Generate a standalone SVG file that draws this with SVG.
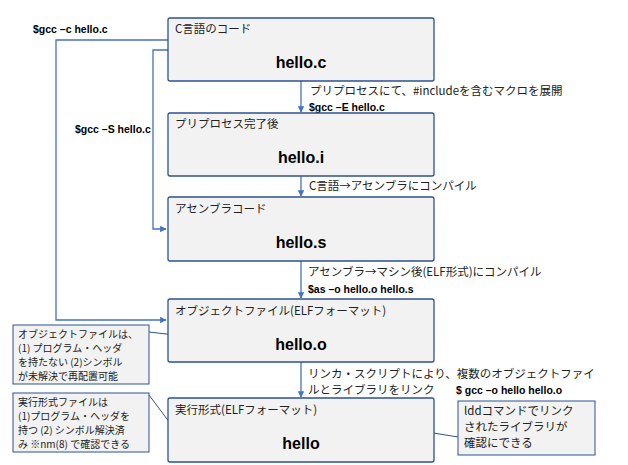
<svg xmlns="http://www.w3.org/2000/svg" width="628" height="465" viewBox="0 0 628 465">
<style>
.box{fill:#f2f2f2;stroke:#2f528f;stroke-width:1.3}
.note{fill:#f2f2f2;stroke:#2f528f;stroke-width:1}
.t{font-family:"Noto Sans CJK JP","Noto Sans",sans-serif;font-size:11.5px;fill:#222}
.n{font-family:"Noto Sans CJK JP","Noto Sans",sans-serif;font-size:10px;fill:#222}
.b{font-family:"Liberation Sans","Noto Sans",sans-serif;font-weight:bold;font-size:16px;fill:#000;text-anchor:middle}
.c{font-family:"Liberation Sans",sans-serif;font-weight:bold;font-size:10.5px;fill:#000}
.ln{fill:none;stroke:#4472c4;stroke-width:1.3}
.thin{fill:none;stroke:#2f528f;stroke-width:1}
</style>
<defs>
<marker id="a" viewBox="0 0 10 10" refX="9" refY="5" markerWidth="5" markerHeight="5" orient="auto"><path d="M0,0L10,5L0,10z" fill="#4472c4"/></marker>
<marker id="o" viewBox="0 0 10 10" refX="9" refY="5" markerWidth="8" markerHeight="8" orient="auto"><path d="M0,1L9,5L0,9" fill="none" stroke="#2f528f" stroke-width="1"/></marker>
</defs>
<g id="connectors">
<path class="ln" d="M168,40H56V320H166" marker-end="url(#a)"/>
<path class="ln" d="M168,50H153V229H166" marker-end="url(#a)"/>
<path class="ln" d="M301,81V112" marker-end="url(#a)"/>
<path class="ln" d="M301,176V196" marker-end="url(#a)"/>
<path class="ln" d="M301,261V298" marker-end="url(#a)"/>
<path class="ln" d="M301,362V397" marker-end="url(#a)"/>
<path class="thin" d="M149,332L201,338" marker-end="url(#o)"/>
<path class="thin" d="M149,395L185,443" marker-end="url(#o)"/>
<path class="thin" d="M458,437L421,431" marker-end="url(#o)"/>
<text class="c" x="33" y="33">$gcc –c hello.c</text>
<text class="c" x="75" y="133">$gcc –S hello.c</text>
<text class="t" x="310" y="95">プリプロセスにて、#includeを含むマクロを展開</text>
<text class="c" x="309" y="111">$gcc –E hello.c</text>
<text class="t" x="309" y="190">C言語→アセンブラにコンパイル</text>
<text class="t" x="308" y="276">アセンブラ→マシン後(ELF形式)にコンパイル</text>
<text class="c" x="308" y="293">$as –o hello.o hello.s</text>
<text class="t" x="308" y="378">リンカ・スクリプトにより、複数のオブジェクトファイ</text>
<text class="t" x="308" y="394">ルとライブラリをリンク</text>
<text class="c" x="456" y="394">$ gcc –o hello hello.o</text>
</g>
<g id="n1"><rect class="box" x="168" y="18" width="266" height="63" rx="2"/><text class="t" x="175" y="33">C言語のコード</text><text class="b" x="301" y="68">hello.c</text></g>
<g id="n2"><rect class="box" x="168" y="113" width="266" height="63" rx="2"/><text class="t" x="175" y="128">プリプロセス完了後</text><text class="b" x="301" y="163">hello.i</text></g>
<g id="n3"><rect class="box" x="168" y="197" width="266" height="64" rx="2"/><text class="t" x="175" y="213">アセンブラコード</text><text class="b" x="301" y="248">hello.s</text></g>
<g id="n4"><rect class="box" x="168" y="299" width="266" height="63" rx="2"/><text class="t" x="175" y="315">オブジェクトファイル(ELFフォーマット)</text><text class="b" x="301" y="350">hello.o</text></g>
<g id="n5"><rect class="box" x="168" y="398" width="266" height="64" rx="2"/><text class="t" x="175" y="414">実行形式(ELFフォーマット)</text><text class="b" x="301" y="449">hello</text></g>
<g id="note1"><rect class="note" x="13" y="325" width="136" height="59"/><text class="n" x="18" y="338">オブジェクトファイルは、</text><text class="n" x="18" y="352">(1) プログラム・ヘッダ</text><text class="n" x="18" y="366">を持たない (2)シンボル</text><text class="n" x="18" y="380">が未解決で再配置可能</text></g>
<g id="note2"><rect class="note" x="13" y="393" width="136" height="59"/><text class="n" x="18" y="406">実行形式ファイルは</text><text class="n" x="18" y="420">(1)プログラム・ヘッダを</text><text class="n" x="18" y="434">持つ (2) シンボル解決済</text><text class="n" x="18" y="448">み ※nm(8) で確認できる</text></g>
<g id="note3"><rect class="note" x="458" y="401" width="137" height="54"/><text class="t" x="464" y="415">lddコマンドでリンク</text><text class="t" x="464" y="431">されたライブラリが</text><text class="t" x="464" y="447">確認にできる</text></g>
</svg>
